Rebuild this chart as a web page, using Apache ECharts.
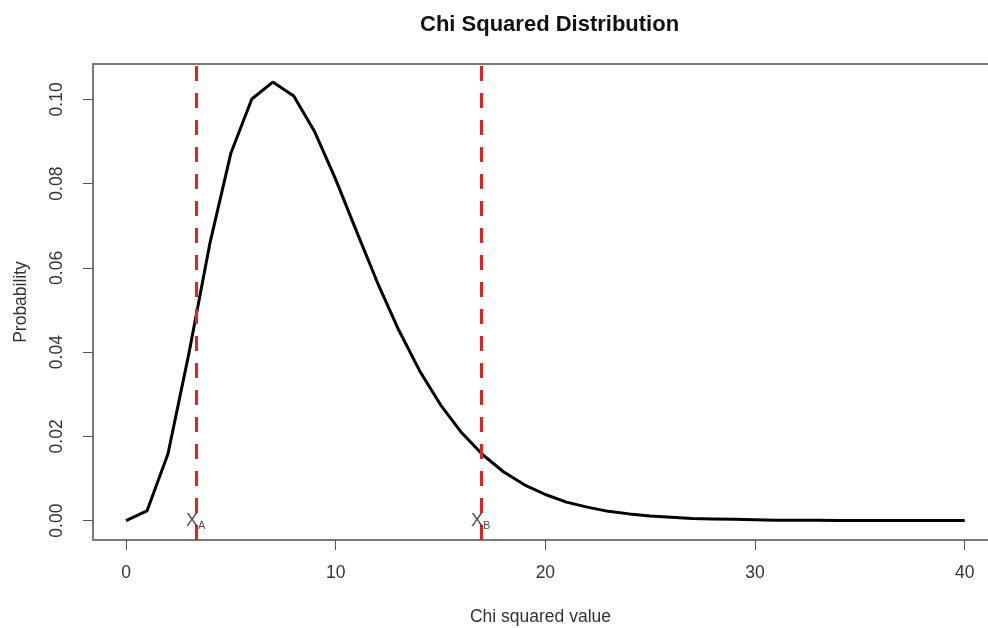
<!DOCTYPE html>
<html>
<head>
<meta charset="utf-8">
<script src="https://cdn.jsdelivr.net/npm/echarts@6/dist/echarts.min.js"></script>
<style>html,body{margin:0;padding:0;background:#fff}#c{width:988px;height:628px}</style>
</head>
<body>
<div id="c"></div>
<script>
const xValues = [0,1,2,3,4,5,6,7,8,9,10,11,12,13,14,15,16,17,18,19,20,21,22,23,24,25,26,27,28,29,30,31,32,33,34,35,36,37,38,39,40];
const probValues = [0,0.0023,0.0158,0.0397,0.0658,0.0872,0.1001,0.1041,0.1008,0.0923,0.0810,0.0686,0.0564,0.0453,0.0356,0.0275,0.0209,0.0157,0.0116,0.0085,0.0062,0.0044,0.0032,0.0022,0.0016,0.0011,0.0008,0.0005,0.0004,0.0003,0.0002,0.0001,0.0001,0.0001,0.0000,0.0000,0.0000,0.0000,0.0000,0.0000,0.0000];
const cutValues = [3.325, 16.919];
const cutLabels = ['A', 'B'];
const xTicks = [0, 10, 20, 30, 40];
const yTicks = [0, 0.02, 0.04, 0.06, 0.08, 0.10];
const titleText = 'Chi Squared Distribution';
const xName = 'Chi squared value';
const yName = 'Probability';

const FONT = '"Liberation Sans", Arial, sans-serif';
const BOX = {color: '#7a7a7a', width: 2};
const TICK = {color: '#555', width: 1};
const X_MIN = -1.574, X_MAX = 41.11;
const chart = echarts.init(document.getElementById('c'), null, {renderer: 'canvas'});
chart.setOption({
  backgroundColor: '#fff',
  animation: false,
  title: {
    text: titleText, left: 415, top: 9,
    textStyle: {fontFamily: FONT, fontSize: 22, fontWeight: 'bold', color: '#111'}
  },
  grid: {left: 93, right: 0, top: 64, bottom: 88, show: false, containLabel: false, outerBoundsMode: 'none'},
  xAxis: [{
    type: 'value', min: X_MIN, max: X_MAX, position: 'bottom',
    name: xName, nameLocation: 'middle', nameGap: 68,
    nameTextStyle: {fontFamily: FONT, fontSize: 17.5, color: '#333'},
    axisLine: {show: true, onZero: false, lineStyle: BOX},
    axisTick: {show: true, inside: false, length: 10, lineStyle: TICK, customValues: xTicks},
    axisLabel: {fontFamily: FONT, fontSize: 17.5, color: '#333', margin: 24, customValues: xTicks},
    splitLine: {show: false}
  }, {
    type: 'value', min: X_MIN, max: X_MAX, position: 'top',
    axisLine: {show: true, onZero: false, lineStyle: BOX},
    axisTick: {show: false}, axisLabel: {show: false}, splitLine: {show: false}
  }],
  yAxis: {
    type: 'value', min: -0.0046, max: 0.1084, position: 'left',
    name: yName, nameLocation: 'middle', nameGap: 63, nameRotate: 90,
    nameTextStyle: {fontFamily: FONT, fontSize: 17.5, color: '#333'},
    axisLine: {show: true, onZero: false, lineStyle: BOX},
    axisTick: {show: true, inside: false, length: 10, lineStyle: TICK, customValues: yTicks},
    axisLabel: {fontFamily: FONT, fontSize: 17.5, color: '#333', margin: 27, rotate: 90,
      customValues: yTicks, formatter: v => v.toFixed(2)},
    splitLine: {show: false}
  },
  series: [
    {
      type: 'line', data: xValues.map((x, i) => [x, probValues[i]]),
      showSymbol: false, symbol: 'none',
      lineStyle: {color: '#000', width: 3}, z: 3,
      markLine: {
        silent: true, symbol: ['none', 'none'],
        label: {show: false},
        lineStyle: {color: '#e02222', width: 3, type: [15, 12]},
        data: cutValues.map(v => ({xAxis: v}))
      }
    },
    {
      type: 'scatter', symbolSize: 0, z: 5,
      data: cutValues.map((v, i) => ({value: [v, 0], name: cutLabels[i]})),
      label: {
        show: true, position: 'inside',
        formatter: p => '{x|X}{s|' + p.name + '}',
        rich: {
          x: {fontFamily: FONT, fontSize: 18, color: '#222', lineHeight: 20},
          s: {fontFamily: FONT, fontSize: 11, color: '#222', lineHeight: 20, padding: [10, 0, 0, 0]}
        }
      }
    }
  ]
});
</script>
</body>
</html>
